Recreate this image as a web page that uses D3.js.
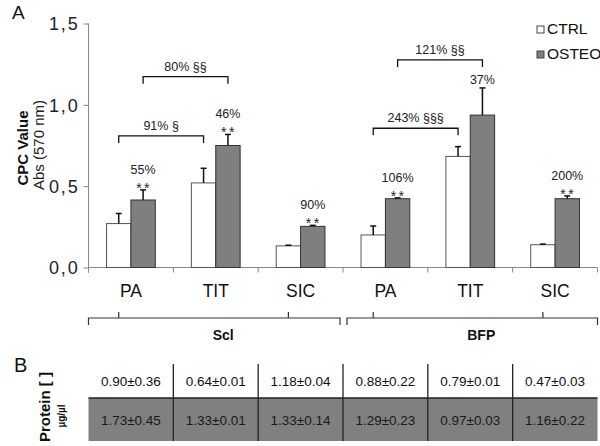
<!DOCTYPE html>
<html><head><meta charset="utf-8">
<script src="https://cdn.jsdelivr.net/npm/d3@7/dist/d3.min.js"></script>
<style>body{margin:0;background:#fff}svg{display:block;font-family:Arial,"Liberation Sans",sans-serif}</style>
</head><body>
<svg id="c" width="600" height="446"></svg>
<script>
const categories = ["PA","TIT","SIC","PA","TIT","SIC"];
const groups = ["Scl","BFP"];
const seriesNames = ["CTRL","OSTEO"];
const ctrl = [0.27, 0.52, 0.133, 0.20, 0.683, 0.14];
const ctrlErr = [0.062, 0.09, 0.004, 0.055, 0.06, 0.004];
const osteo = [0.415, 0.75, 0.253, 0.423, 0.937, 0.423];
const osteoErr = [0.062, 0.068, 0.006, 0.005, 0.167, 0.017];
const pctLabels = ["55%","46%","90%","106%","37%","200%"];
const starLabels = ["**","**","**","**","","**"];
const bracketLabels = ["91% §","80% §§","243% §§§","121% §§"];
const bracketFrom = [0,0,3,3];
const bracketTo = [1,1,4,4];
const bracketSeries = ["CTRL","OSTEO","CTRL","OSTEO"];
const bracketLevel = [0.809, 1.173, 0.856, 1.276];
const yTicks = [0, 0.5, 1.0, 1.5];
const proteinCtrl = ["0.90±0.36","0.64±0.01","1.18±0.04","0.88±0.22","0.79±0.01","0.47±0.03"];
const proteinOsteo = ["1.73±0.45","1.33±0.01","1.33±0.14","1.29±0.23","0.97±0.03","1.16±0.22"];

const svg = d3.select("#c");
const x0 = 88.5, x1r = 597.5;
const idx = categories.map((_, i) => i);
const x = d3.scaleBand().domain(idx).range([x0, x1r]).padding(0);
const xs = d3.scaleBand().domain(seriesNames).range([0, x.bandwidth()]).paddingInner(0).paddingOuter(0.74);
const y = d3.scaleLinear().domain([0, 1.5]).range([267.5, 23.5]);

// Y axis
const yAxis = svg.append("g").attr("transform", `translate(${x0},0)`)
  .call(d3.axisLeft(y).tickValues(yTicks).tickSize(5).tickPadding(4).tickFormat(d => d3.format(".1f")(d).replace(".", ",")));
yAxis.select(".domain").attr("stroke", "#888").attr("d", `M-0,${y(1.5)}V${y(0)+5}`);
yAxis.selectAll(".tick line").attr("stroke", "#888");
yAxis.selectAll(".tick text").attr("font-size", 18).attr("fill", "#222").attr("letter-spacing", 1.8).attr("dy", "0.36em");

// X axis line with boundary ticks
const xAxis = svg.append("g").attr("transform", `translate(0,${y(0)})`);
xAxis.append("line").attr("x1", x0).attr("x2", x1r).attr("stroke", "#888");
xAxis.selectAll("line.b").data(idx.concat([categories.length])).join("line").attr("class","b")
  .attr("x1", i => i < categories.length ? x(i) : x1r).attr("x2", i => i < categories.length ? x(i) : x1r)
  .attr("y1", 0).attr("y2", 5).attr("stroke", "#888");
xAxis.selectAll("text").data(categories).join("text")
  .attr("x", (d, i) => x(i) + x.bandwidth()/2).attr("y", 29).attr("text-anchor", "middle")
  .attr("font-size", 17.5).attr("fill", "#111").text(d => d);

// Bars
const bars = [];
idx.forEach(i => {
  bars.push({i, s: "CTRL", v: ctrl[i], e: ctrlErr[i]});
  bars.push({i, s: "OSTEO", v: osteo[i], e: osteoErr[i]});
});
const bx = d => x(d.i) + xs(d.s);
svg.selectAll("rect.bar").data(bars).join("rect").attr("class","bar")
  .attr("x", bx).attr("width", xs.bandwidth())
  .attr("y", d => y(d.v)).attr("height", d => y(0) - y(d.v))
  .attr("fill", d => d.s === "CTRL" ? "#fff" : "#7f7f7f")
  .attr("stroke", d => d.s === "CTRL" ? "#555" : "#333").attr("stroke-width", 1);
// error bars
const eg = svg.append("g").attr("stroke", "#111").attr("stroke-width", 1.5);
bars.forEach(d => {
  const cx = bx(d) + xs.bandwidth()/2;
  eg.append("line").attr("x1", cx).attr("x2", cx).attr("y1", y(d.v)).attr("y2", y(d.v + d.e));
  eg.append("line").attr("x1", cx - 3).attr("x2", cx + 3).attr("y1", y(d.v + d.e)).attr("y2", y(d.v + d.e));
});

// Percent and star annotations
idx.forEach(i => {
  const cx = x(i) + xs("OSTEO") + xs.bandwidth()/2;
  const top = y(osteo[i] + osteoErr[i]);
  svg.append("text").attr("x", cx).attr("y", top - (starLabels[i] ? 16 : 4)).attr("text-anchor", "middle")
    .attr("font-size", 12.5).attr("fill", "#222").text(pctLabels[i]);
  if (starLabels[i]) svg.append("text").attr("x", cx + 1).attr("y", top + 3).attr("text-anchor", "middle")
    .attr("font-size", 14).attr("letter-spacing", 2.5).attr("fill", "#222").text(starLabels[i]);
});

// Brackets
bracketLabels.forEach((lab, k) => {
  const xa = x(bracketFrom[k]) + xs(bracketSeries[k]) + xs.bandwidth()/2;
  const xb = x(bracketTo[k]) + xs(bracketSeries[k]) + xs.bandwidth()/2;
  const yy = y(bracketLevel[k]);
  svg.append("path").attr("d", `M${xa},${yy+7}V${yy}H${xb}V${yy+7}`).attr("fill", "none").attr("stroke", "#111").attr("stroke-width", 1.3);
  svg.append("text").attr("x", (xa + xb)/2).attr("y", yy - 6).attr("text-anchor", "middle")
    .attr("font-size", 12.5).attr("fill", "#222").text(lab);
});

// Group brackets
const gy = 318;
groups.forEach((g, k) => {
  const a = x(k*3) + (k === 0 ? 0 : 4), b = (k === 0 ? x(3) - 3 : x1r);
  svg.append("path").attr("d", `M${a},${gy+7}V${gy}H${b}V${gy+7}`).attr("fill","none").attr("stroke","#333").attr("stroke-width",1.2);
  [k*3, k*3+2].forEach(i => {
    const cx = x(i) + xs("CTRL") + xs.bandwidth()/2;
    svg.append("line").attr("x1", cx).attr("x2", cx).attr("y1", gy - 6).attr("y2", gy).attr("stroke","#333").attr("stroke-width",1.2);
  });
  svg.append("text").attr("x", (a + b)/2 + 9).attr("y", 340).attr("text-anchor","middle")
    .attr("font-size", 14).attr("font-weight","bold").attr("fill","#111").text(g);
});

// Legend
seriesNames.forEach((s, k) => {
  const ly = 26 + k*25;
  svg.append("rect").attr("x", 537).attr("y", ly).attr("width", 7).attr("height", 7)
    .attr("fill", s === "CTRL" ? "#fff" : "#7f7f7f").attr("stroke", "#444");
  svg.append("text").attr("x", 547).attr("y", ly + 8).attr("font-size", 15.5).attr("fill","#111").text(s);
});

// Y label
svg.append("text").attr("transform", "translate(28,148) rotate(-90)").attr("text-anchor","middle")
  .attr("font-size", 15).attr("font-weight","bold").attr("fill","#111").text("CPC Value");
svg.append("text").attr("transform", "translate(44,145) rotate(-90)").attr("text-anchor","middle")
  .attr("font-size", 15).attr("fill","#222").text("Abs (570 nm)");

// Panel letters
svg.append("text").attr("x", 12).attr("y", 19).attr("font-size", 19).attr("fill","#111").text("A");
svg.append("text").attr("x", 14).attr("y", 372).attr("font-size", 20).attr("fill","#111").text("B");

// Table
const t1 = 364, t2 = 398, t3 = 441;
svg.append("rect").attr("x", x0).attr("y", t2).attr("width", x1r - x0).attr("height", t3 - t2).attr("fill", "#808080");
svg.append("line").attr("x1", x0).attr("x2", x1r).attr("y1", t2).attr("y2", t2).attr("stroke","#222").attr("stroke-width",1.3);
idx.slice(1).forEach(i => {
  svg.append("line").attr("x1", x(i)).attr("x2", x(i)).attr("y1", t1).attr("y2", t3).attr("stroke","#222").attr("stroke-width",1.3);
});
svg.selectAll("text.p1").data(proteinCtrl).join("text").attr("class","p1")
  .attr("x", (d,i) => x(i) + x.bandwidth()/2).attr("y", 386).attr("text-anchor","middle")
  .attr("font-size", 13.5).attr("fill","#111").text(d => d);
svg.selectAll("text.p2").data(proteinOsteo).join("text").attr("class","p2")
  .attr("x", (d,i) => x(i) + x.bandwidth()/2).attr("y", 425).attr("text-anchor","middle")
  .attr("font-size", 13.5).attr("fill","#1a1a1a").text(d => d);
svg.append("text").attr("transform", "translate(50,407) rotate(-90)").attr("text-anchor","middle")
  .attr("font-size", 15).attr("font-weight","bold").attr("fill","#111").text("Protein [ ]");
svg.append("text").attr("transform", "translate(65,416) rotate(-90)").attr("text-anchor","middle")
  .attr("font-size", 10).attr("font-weight","bold").attr("fill","#111").text("µg/µl");
</script>
</body></html>
